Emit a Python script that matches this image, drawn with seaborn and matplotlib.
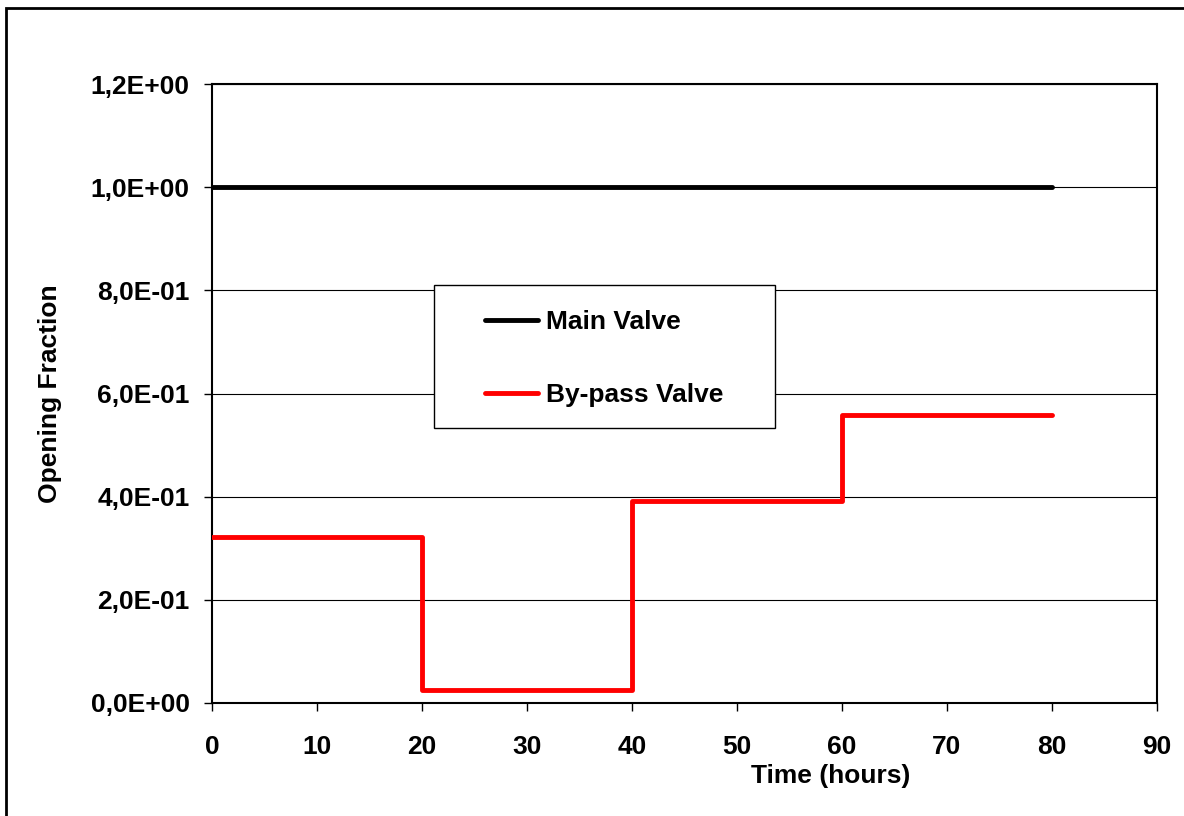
import matplotlib
matplotlib.use("Agg")
import matplotlib.pyplot as plt
from matplotlib.ticker import FuncFormatter, MultipleLocator
from matplotlib.patches import Rectangle
import seaborn as sns

# data
main_time = [0, 20, 40, 60, 80]
main_open = [1.0, 1.0, 1.0, 1.0, 1.0]
bypass_time = [0, 20, 40, 60, 80]
bypass_open = [0.322, 0.025, 0.391, 0.558, 0.558]

sns.set_style("white")
plt.rcParams['font.family'] = ['Liberation Sans', 'DejaVu Sans']
plt.rcParams['font.weight'] = 'bold'
plt.rcParams['text.color'] = 'black'
plt.rcParams['axes.labelcolor'] = 'black'
plt.rcParams['xtick.color'] = 'black'
plt.rcParams['ytick.color'] = 'black'

fig = plt.figure(figsize=(11.84, 8.16), dpi=100)
ax = fig.add_axes([0.179, 0.1385, 0.798, 0.7585])

sns.lineplot(x=main_time, y=main_open, color='black', linewidth=3.5,
             label='Main Valve', ax=ax, zorder=4)
sns.lineplot(x=bypass_time, y=bypass_open, color='#ff0000', linewidth=3.5,
             drawstyle='steps-post', label='By-pass Valve', ax=ax, zorder=4)

ax.set_xlim(0, 90)
ax.set_ylim(0, 1.2)
ax.xaxis.set_major_locator(MultipleLocator(10))
ax.yaxis.set_major_locator(MultipleLocator(0.2))
ax.yaxis.set_major_formatter(FuncFormatter(lambda v, p: f"{v:.1E}".replace('.', ',')))
ax.grid(axis='y', color='black', linewidth=0.8)
ax.set_axisbelow(True)
for s in ax.spines.values():
    s.set_color('black')
    s.set_linewidth(1.5)
ax.tick_params(axis='both', direction='out', length=6, width=1, color='black',
               labelsize=19, bottom=True, left=True)
ax.tick_params(axis='x', pad=17)
ax.tick_params(axis='y', pad=10)
for lab in ax.get_xticklabels() + ax.get_yticklabels():
    lab.set_fontweight('bold')

ax.set_xlabel('Time (hours)', fontsize=19, fontweight='bold')
ax.set_ylabel('Opening Fraction', fontsize=19, fontweight='bold')
ax.xaxis.set_label_coords(0.655, -0.099)
ax.yaxis.set_label_coords(-0.159, 0.5)

# legend box drawn as a plain white rectangle, legend entries placed inside it
ax.add_patch(Rectangle((0.235, 0.444), 0.361, 0.231, transform=ax.transAxes,
                       facecolor='white', edgecolor='black', linewidth=1.0, zorder=3))
leg = ax.legend(loc='upper left', bbox_to_anchor=(0.289, 0.635), fontsize=19,
                frameon=False, handlelength=2.0, labelspacing=1.87, borderpad=0,
                handletextpad=0.3, borderaxespad=0)
leg.set_zorder(5)
for t in leg.get_texts():
    t.set_fontweight('bold')

fig.patches.append(Rectangle((0.005, -0.05), 1.1, 1.04, transform=fig.transFigure,
                             fill=False, edgecolor='black', linewidth=2, clip_on=False))

fig.savefig('out.png', dpi=100)
